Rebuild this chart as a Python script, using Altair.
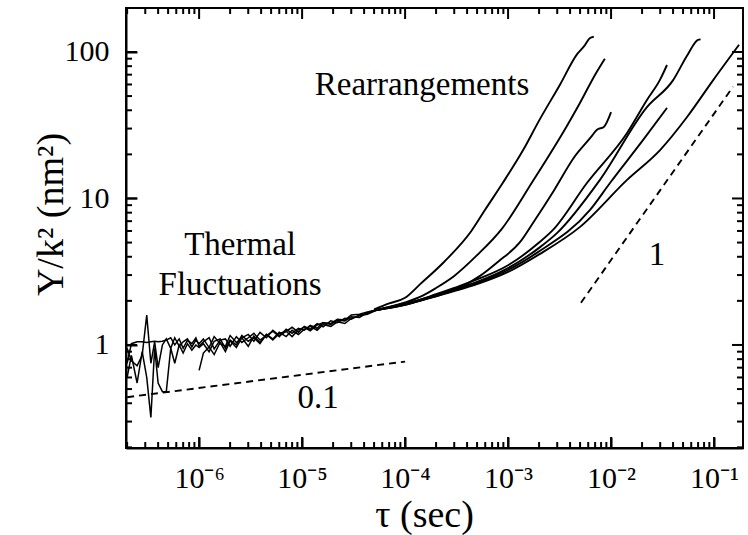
import math
import altair as alt
import pandas as pd

# ---------------- data ----------------
# thermal-fluctuation (noisy) region, tau in sec
noise_tau = [2.0e-7, 2.2e-7, 2.5e-7, 2.8e-7, 3.1e-7, 3.4e-7, 3.7e-7, 4.0e-7, 4.4e-7, 4.8e-7,
             5.3e-7, 5.8e-7, 6.4e-7, 7.0e-7, 7.7e-7, 8.5e-7, 9.3e-7, 1.0e-6, 1.1e-6, 1.25e-6,
             1.4e-6, 1.6e-6, 1.8e-6, 2.0e-6, 2.3e-6, 2.6e-6, 3.0e-6, 3.4e-6, 3.9e-6, 4.5e-6,
             5.2e-6, 6.0e-6, 7.0e-6, 8.0e-6, 9.2e-6, 1.05e-5, 1.2e-5, 1.4e-5, 1.6e-5, 1.9e-5,
             2.2e-5, 2.6e-5, 3.0e-5, 3.6e-5, 4.3e-5, 5.0e-5]
noise_1 = [0.95, 0.78, 0.72, 0.85, 1.60, 0.75, 1.05, 0.70, 1.00, 1.10,
           0.95, 1.12, 0.98, 1.05, 1.10, 0.97, 1.08, 1.02, 1.10, 0.96,
           1.14, 1.02, 0.98, 1.16, 1.04, 1.12, 1.18, 1.06, 1.22, 1.12,
           1.26, 1.16, 1.24, 1.32, 1.22, 1.34, 1.28, 1.40, 1.33, 1.46,
           1.42, 1.52, 1.50, 1.60, 1.64, 1.72]
noise_2 = [0.75, 1.02, 1.05, 1.05, 1.04, 1.05, 1.06, 1.05, 1.06, 1.08,
           1.12, 1.00, 1.10, 0.95, 1.08, 1.02, 1.12, 0.98, 1.05, 1.12,
           0.94, 1.08, 1.10, 0.98, 1.14, 1.04, 1.12, 1.20, 1.08, 1.16,
           1.24, 1.14, 1.28, 1.20, 1.30, 1.26, 1.36, 1.30, 1.42, 1.38,
           1.48, 1.46, 1.56, 1.54, 1.66, 1.72]
noise_3 = [0.60, 0.85, 0.55, 0.90, 0.60, 0.32, 0.95, 0.55, 0.48, 0.48,
           0.95, 0.75, 1.00, 0.88, 1.02, 0.92, 1.00, 0.96, 1.02, 0.90,
           1.06, 1.10, 0.95, 1.08, 1.00, 1.16, 1.06, 1.12, 1.02, 1.18,
           1.10, 1.22, 1.14, 1.26, 1.18, 1.28, 1.34, 1.26, 1.38, 1.34,
           1.44, 1.40, 1.52, 1.58, 1.62, 1.70]
noise_4 = [0.67, 0.88, 0.97, 0.86, 1.04, 0.90, 1.07, 0.96, 1.12, 0.98,
           1.15, 1.04, 1.18, 1.08, 1.20, 1.24, 1.14, 1.27, 1.32, 1.25,
           1.37, 1.42, 1.40, 1.50, 1.48, 1.60, 1.62, 1.68, 1.72]   # starts at 1e-6

# rearrangement curves
tau_A = [5e-5, 7e-5, 1e-4, 1.4e-4, 2.4e-4, 4.4e-4, 6e-4, 8.9e-4, 1.4e-3, 2.0e-3, 3.2e-3, 4.7e-3, 5.5e-3, 6.2e-3, 6.8e-3]
Y_A   = [1.75, 1.92, 2.1, 2.6, 3.7, 6.0, 8.4, 12.8, 21.4, 34, 60, 97, 110, 124, 127]
tau_B = [5e-5, 1e-4, 1.5e-4, 2e-4, 3e-4, 5e-4, 8.7e-4, 1.7e-3, 3.7e-3, 5e-3, 7e-3, 8.7e-3]
Y_B   = [1.72, 1.95, 2.18, 2.45, 2.96, 4.1, 6.2, 12.8, 31, 45, 70, 90]
tau_C = [5e-5, 1e-4, 2.2e-4, 3.5e-4, 5.3e-4, 8e-4, 1.31e-3, 1.79e-3, 2.8e-3, 4.4e-3, 6.4e-3, 7.3e-3, 8.5e-3, 1e-2]
Y_C   = [1.72, 1.92, 2.2, 2.5, 2.95, 3.7, 5.05, 7.0, 11.4, 19.2, 26.3, 29.5, 30.8, 38.9]
tau_D = [5e-5, 1e-4, 2e-4, 3e-4, 5e-4, 1e-3, 2e-3, 2.73e-3, 5.85e-3, 1.43e-2, 2.23e-2, 3.0e-2, 3.49e-2]
Y_D   = [1.72, 1.9, 2.22, 2.45, 2.8, 3.5, 5.0, 6.1, 12.8, 28, 47, 65, 81.5]
tau_E = [5e-5, 1e-4, 2e-4, 3e-4, 5e-4, 1e-3, 2e-3, 2.98e-3, 7.8e-3, 2.23e-2, 3.99e-2, 5.5e-2, 6.98e-2, 7.4e-2]
Y_E   = [1.72, 1.9, 2.2, 2.4, 2.7, 3.35, 4.6, 5.8, 13.4, 42, 64, 95, 121, 122]
tau_F = [5e-5, 1e-4, 2e-4, 3e-4, 5e-4, 1e-3, 1.9e-3, 6.25e-3, 9.8e-3, 2.04e-2, 3.49e-2]
Y_F   = [1.72, 1.88, 2.17, 2.36, 2.65, 3.25, 4.25, 8.35, 12.8, 25, 41.5]
tau_G = [5e-5, 1e-4, 2e-4, 3e-4, 5e-4, 1e-3, 2e-3, 5e-3, 1.43e-2, 2.99e-2, 5.47e-2, 9.77e-2, 1.75e-1]
Y_G   = [1.72, 1.88, 2.15, 2.33, 2.6, 3.15, 4.15, 6.4, 13.4, 21.4, 36, 64, 112]

# guide (slope) lines
slope01_tau = [2.0e-7, 1.0e-4]
slope01_Y   = [0.44, 0.77]
slope1_tau  = [5.1e-3, 0.153]
slope1_Y    = [1.94, 58]

# annotations
note_text = ["Rearrangements", "Thermal", "Fluctuations", "0.1", "1"]
note_tau  = [1.46e-4, 2.5e-6, 2.5e-6, 1.43e-5, 2.79e-2]
note_Y    = [50.9, 4.12, 2.19, 0.371, 3.52]

# axis ticks
x_major = [1e-6, 1e-5, 1e-4, 1e-3, 1e-2, 1e-1]
y_major = [1, 10, 100]

X_DOMAIN = [1.95e-7, 0.191]
Y_DOMAIN = [0.198, 199.6]
W, H = 617, 440

# ---------------- tables ----------------
noise_rows, smooth_rows = [], []
def add(rows, name, ts, ys):
    for t, y in zip(ts, ys):
        rows.append({"tau": t, "Y": y, "curve": name})

add(noise_rows, "n1", noise_tau, noise_1)
add(noise_rows, "n2", noise_tau, noise_2)
add(noise_rows, "n3", noise_tau, noise_3)
add(noise_rows, "n4", noise_tau[17:], noise_4)
for nm, ts, ys in [("A", tau_A, Y_A), ("B", tau_B, Y_B), ("C", tau_C, Y_C), ("D", tau_D, Y_D),
                   ("E", tau_E, Y_E), ("F", tau_F, Y_F), ("G", tau_G, Y_G)]:
    add(smooth_rows, nm, ts, ys)
noise_df = pd.DataFrame(noise_rows)
smooth_df = pd.DataFrame(smooth_rows)

guides = pd.DataFrame(
    [{"tau": t, "Y": y, "curve": "s01"} for t, y in zip(slope01_tau, slope01_Y)]
    + [{"tau": t, "Y": y, "curve": "s1"} for t, y in zip(slope1_tau, slope1_Y)]
)
notes = pd.DataFrame({"tau": note_tau, "Y": note_Y, "label": note_text})

x_minor = [m * 10.0 ** e for e in range(-7, 0) for m in range(2, 10)]
x_minor = [v for v in x_minor if X_DOMAIN[0] < v < X_DOMAIN[1]]
y_minor = [m * 10.0 ** e for e in range(-1, 3) for m in range(2, 10)]
y_minor = [v for v in y_minor if Y_DOMAIN[0] < v < Y_DOMAIN[1]]

FONT = "Liberation Serif"
xs = alt.Scale(type="log", domain=X_DOMAIN, nice=False)
ys = alt.Scale(type="log", domain=Y_DOMAIN, nice=False)

sup = "['⁰','¹','²','³','⁴','⁵','⁶','⁷','⁸','⁹']"
# inward major ticks on the bottom / left axes (negative size through an expression)
x_axis = alt.Axis(
    values=x_major, ticks=True, tickSize={"expr": "-11"}, tickColor="black", tickWidth=2,
    domain=True, domainColor="black", domainWidth=2,
    grid=True, gridOpacity=0,
    labelExpr="'10⁻' + " + sup + "[round(-log(datum.value)/LN10)]",
    labelFont=FONT, labelFontSize=30, labelColor="black",
    labelBaseline="alphabetic", labelPadding=50, labelAlign="center",
    title="τ (sec)", titleFont=FONT, titleFontSize=38, titleFontWeight="normal",
    titleColor="black", titleX=298, titleY=78, titleBaseline="alphabetic", titleAlign="center",
)
y_axis = alt.Axis(
    values=y_major, ticks=True, tickSize={"expr": "-11"}, tickColor="black", tickWidth=2,
    domain=True, domainColor="black", domainWidth=2,
    grid=True, gridOpacity=0, format="d",
    labelFont=FONT, labelFontSize=30, labelColor="black", labelPadding=28,
    labelBaseline="middle",
    title="Y/k² (nm²)", titleFont=FONT, titleFontSize=38, titleFontWeight="normal",
    titleColor="black", titleAngle=270, titleX=-56, titleY=206,
    titleBaseline="bottom", titleAlign="center",
)

X = alt.X("tau:Q", scale=xs, axis=x_axis)
Y = alt.Y("Y:Q", scale=ys, axis=y_axis)

# inward ticks on all four sides drawn as short two-point segments
x_dec_px = W / math.log10(X_DOMAIN[1] / X_DOMAIN[0])
y_dec_px = H / math.log10(Y_DOMAIN[1] / Y_DOMAIN[0])
tick_rows = []
n = 0
for side in ("b", "t"):
    for vals, L in ((x_major, 11), (x_minor, 6)):
        f = 10 ** (L / y_dec_px)
        for v in vals:
            y0 = Y_DOMAIN[0] if side == "b" else Y_DOMAIN[1]
            y1 = y0 * f if side == "b" else y0 / f
            tick_rows.append({"tau": v, "Y": y0, "tick": f"t{n}", "k": 0})
            tick_rows.append({"tau": v, "Y": y1, "tick": f"t{n}", "k": 1})
            n += 1
for side in ("l", "r"):
    for vals, L in ((y_major, 11), (y_minor, 6)):
        g = 10 ** (L / x_dec_px)
        for v in vals:
            x0 = X_DOMAIN[0] if side == "l" else X_DOMAIN[1]
            x1 = x0 * g if side == "l" else x0 / g
            tick_rows.append({"tau": x0, "Y": v, "tick": f"t{n}", "k": 0})
            tick_rows.append({"tau": x1, "Y": v, "tick": f"t{n}", "k": 1})
            n += 1
ticks_df = pd.DataFrame(tick_rows)

ticks = alt.Chart(ticks_df).mark_line(color="black", strokeWidth=2).encode(
    x=X, y=Y, detail="tick:N", order=alt.Order("k:Q"))
noisy = alt.Chart(noise_df).mark_line(color="black", strokeWidth=1.5).encode(
    x=X, y=Y, detail="curve:N")
smooth = alt.Chart(smooth_df).mark_line(color="black", strokeWidth=1.9,
                                        interpolate="monotone").encode(
    x=X, y=Y, detail="curve:N")
dashed = alt.Chart(guides).mark_line(color="black", strokeWidth=1.9, strokeDash=[7, 5]).encode(
    x=X, y=Y, detail="curve:N")
text = alt.Chart(notes).mark_text(font=FONT, fontSize=33, color="black",
                                  align="center", baseline="alphabetic").encode(
    x=X, y=Y, text="label:N")

chart = alt.layer(ticks, noisy, smooth, dashed, text).properties(
    width=W, height=H,
    autosize=alt.AutoSizeParams(type="none"),
    padding={"left": 126, "top": 8, "right": 5, "bottom": 87},
    background="white",
).configure_view(stroke="black", strokeWidth=2)

chart.save("out.html", embed_options={"renderer": "svg", "actions": False})
